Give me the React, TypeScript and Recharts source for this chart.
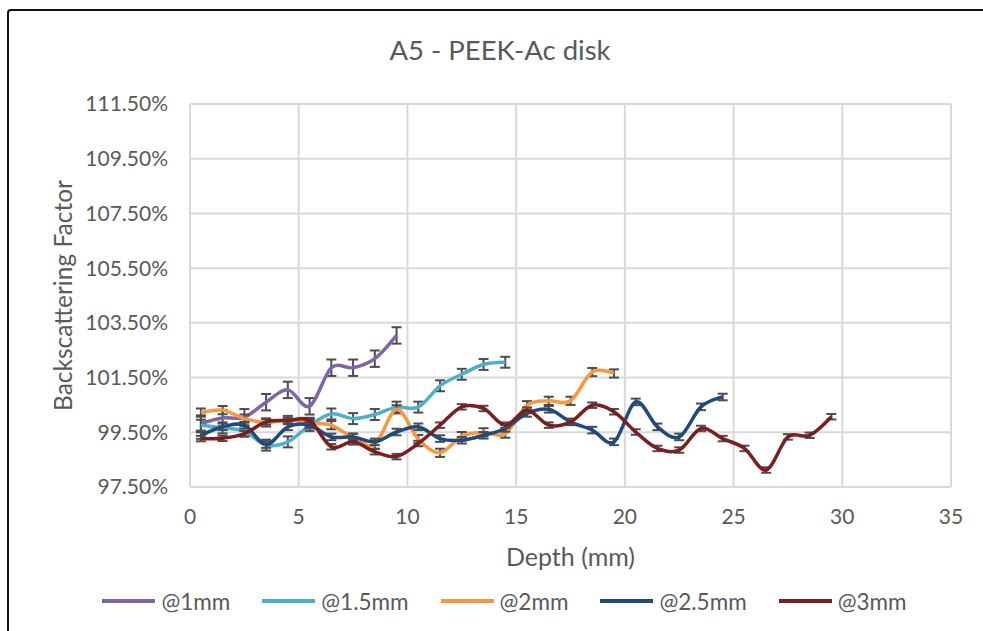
import React from 'react';
import {
  LineChart,
  Line,
  XAxis,
  YAxis,
  CartesianGrid,
  ErrorBar,
  Legend,
} from 'recharts';

// Depth positions (mm) at which the backscattering factor was sampled
const depths = [
  0.5, 1.5, 2.5, 3.5, 4.5, 5.5, 6.5, 7.5, 8.5, 9.5,
  10.5, 11.5, 12.5, 13.5, 14.5, 15.5, 16.5, 17.5, 18.5, 19.5,
  20.5, 21.5, 22.5, 23.5, 24.5, 25.5, 26.5, 27.5, 28.5, 29.5,
];

// Backscattering factor (%) for each slab thickness
const bsf1mm = [99.82, 100.02, 100.05, 100.6, 101.05, 100.45, 101.86, 101.86, 102.19, 103.04];
const bsf15mm = [
  99.76, 99.66, 99.54, 99.03, 99.15, 99.75, 100.17, 100.0, 100.15, 100.42,
  100.42, 101.2, 101.62, 101.98, 102.06,
];
const bsf2mm = [
  100.22, 100.31, 100.0, 99.86, 99.95, 99.85, 99.76, 99.3, 99.05, 100.34,
  99.25, 98.75, 99.36, 99.5, 99.45, 100.49, 100.65, 100.65, 101.7, 101.65,
];
const bsf25mm = [
  99.38, 99.7, 99.76, 99.05, 99.7, 99.76, 99.33, 99.33, 99.15, 99.51,
  99.7, 99.27, 99.21, 99.39, 99.64, 100.19, 100.34, 99.88, 99.58, 99.15,
  100.61, 99.7, 99.33, 100.43, 100.79,
];
const bsf3mm = [
  99.27, 99.28, 99.45, 99.88, 99.93, 99.93, 98.97, 99.15, 98.79, 98.61,
  99.09, 99.76, 100.43, 100.37, 99.76, 100.31, 99.76, 99.88, 100.49, 100.25,
  99.51, 98.91, 98.85, 99.64, 99.27, 98.91, 98.12, 99.33, 99.39, 100.07,
];

// Uncertainty (± %) shown as error bars for each series
const err1mm = 0.3;
const err15mm = 0.2;
const err2mm = 0.15;
const err25mm = 0.12;
const err3mm = 0.1;

const xTicks = [0, 5, 10, 15, 20, 25, 30, 35];
const yTicks = [97.5, 99.5, 101.5, 103.5, 105.5, 107.5, 109.5, 111.5];

const seriesNames = ['@1mm', '@1.5mm', '@2mm', '@2.5mm', '@3mm'];
const seriesColors = ['#8064A8', '#4BB0CC', '#F7973F', '#1F4A7C', '#7A1E22'];

const build = (vals: number[], err: number) =>
  vals.map((v, i) => ({ depth: depths[i], bsf: v, err }));

const series = [
  build(bsf1mm, err1mm),
  build(bsf15mm, err15mm),
  build(bsf2mm, err2mm),
  build(bsf25mm, err25mm),
  build(bsf3mm, err3mm),
];

// Smooth curve through every point (Catmull-Rom style cardinal spline)
function smoothCurve(context: any) {
  const k = 1 / 6;
  let x0 = NaN, x1 = NaN, x2 = NaN, y0 = NaN, y1 = NaN, y2 = NaN;
  let state = 0;
  let line: number = NaN;
  const seg = (x: number, y: number) => {
    context.bezierCurveTo(
      x1 + k * (x2 - x0),
      y1 + k * (y2 - y0),
      x2 + k * (x1 - x),
      y2 + k * (y1 - y),
      x2,
      y2
    );
  };
  return {
    areaStart() { line = 0; },
    areaEnd() { line = NaN; },
    lineStart() {
      x0 = x1 = x2 = y0 = y1 = y2 = NaN;
      state = 0;
    },
    lineEnd() {
      if (state === 2) context.lineTo(x2, y2);
      else if (state === 3) seg(x1, y1);
      if (line || (line !== 0 && state === 1)) context.closePath();
      line = 1 - line;
    },
    point(xIn: number, yIn: number) {
      const x = +xIn;
      const y = +yIn;
      if (state === 0) {
        state = 1;
        if (line) context.lineTo(x, y);
        else context.moveTo(x, y);
      } else if (state === 1) {
        state = 2;
        x1 = x;
        y1 = y;
      } else {
        state = 3;
        seg(x, y);
      }
      x0 = x1; x1 = x2; x2 = x;
      y0 = y1; y1 = y2; y2 = y;
    },
  };
}

const FONT = 'Lato, "Open Sans", sans-serif';
const TEXT = '#595959';

// Legend in series order: short coloured line followed by its name
const LegendContent = () => (
  <div
    style={{
      display: 'flex',
      justifyContent: 'center',
      alignItems: 'center',
      height: 60,
      fontFamily: FONT,
      fontSize: 22.5,
      color: TEXT,
      paddingLeft: 58,
    }}
  >
    {seriesNames.map((name, i) => (
      <div
        key={name}
        style={{ display: 'flex', alignItems: 'center', marginRight: i < seriesNames.length - 1 ? 32 : 0 }}
      >
        <div style={{ width: 53, height: 4, background: seriesColors[i], marginRight: 6 }} />
        <span>{name}</span>
      </div>
    ))}
  </div>
);

export default function App() {
  return (
    <div
      style={{
        position: 'absolute',
        left: 0,
        top: 0,
        width: 983,
        height: 631,
        overflow: 'hidden',
        background: '#fff',
        fontFamily: FONT,
      }}
    >
      <div
        style={{
          position: 'absolute',
          left: 7,
          top: 9,
          width: 1000,
          height: 660,
          border: '2px solid #111',
          borderRadius: 4,
          boxSizing: 'border-box',
        }}
      />
      <div
        style={{
          position: 'absolute',
          left: 300,
          width: 400,
          top: 33,
          textAlign: 'center',
          fontSize: 27.5,
          color: TEXT,
          lineHeight: '34px',
        }}
      >
        A5 - PEEK-Ac disk
      </div>
      <div style={{ position: 'absolute', left: 0, top: 0 }}>
        <LineChart
          width={983}
          height={631}
          margin={{ top: 104, right: 32, left: 0, bottom: 0 }}
        >
          <CartesianGrid stroke="#D9D9D9" strokeWidth={2} />
          <XAxis
            type="number"
            dataKey="depth"
            domain={[0, 35]}
            ticks={xTicks}
            allowDuplicatedCategory={false}
            height={84}
            axisLine={{ stroke: '#D9D9D9', strokeWidth: 2 }}
            tickLine={false}
            tickSize={0}
            tickMargin={22}
            tick={{ fill: TEXT, fontSize: 21, fontFamily: FONT }}
            label={{
              value: 'Depth (mm)',
              position: 'insideBottom',
              offset: 5,
              fill: TEXT,
              fontSize: 25,
              fontFamily: FONT,
            }}
          />
          <YAxis
            type="number"
            domain={[97.5, 111.5]}
            ticks={yTicks}
            width={190}
            axisLine={false}
            tickLine={false}
            tickSize={0}
            tickMargin={22}
            tick={{ fill: TEXT, fontSize: 21, fontFamily: FONT }}
            tickFormatter={(v: number) => `${v.toFixed(2)}%`}
            label={{
              content: (p: any) => {
                const vb = p.viewBox || {};
                const cy = (vb.y || 0) + (vb.height || 0) / 2;
                return (
                  <text
                    x={62}
                    y={cy}
                    transform={`rotate(-90 62 ${cy})`}
                    textAnchor="middle"
                    dominantBaseline="central"
                    fill={TEXT}
                    fontSize={24.5}
                    fontFamily={FONT}
                  >
                    Backscattering Factor
                  </text>
                );
              },
            }}
          />
          <Legend verticalAlign="bottom" height={60} content={<LegendContent />} />
          {series.map((data, i) => (
            <Line
              key={seriesNames[i]}
              data={data}
              dataKey="bsf"
              name={seriesNames[i]}
              stroke={seriesColors[i]}
              strokeWidth={3.5}
              type={smoothCurve as any}
              dot={false}
              activeDot={false}
              isAnimationActive={false}
            >
              <ErrorBar
                dataKey="err"
                direction="y"
                width={5}
                stroke="#4D4D4D"
                strokeWidth={2}
                isAnimationActive={false}
              />
            </Line>
          ))}
        </LineChart>
      </div>
    </div>
  );
}
